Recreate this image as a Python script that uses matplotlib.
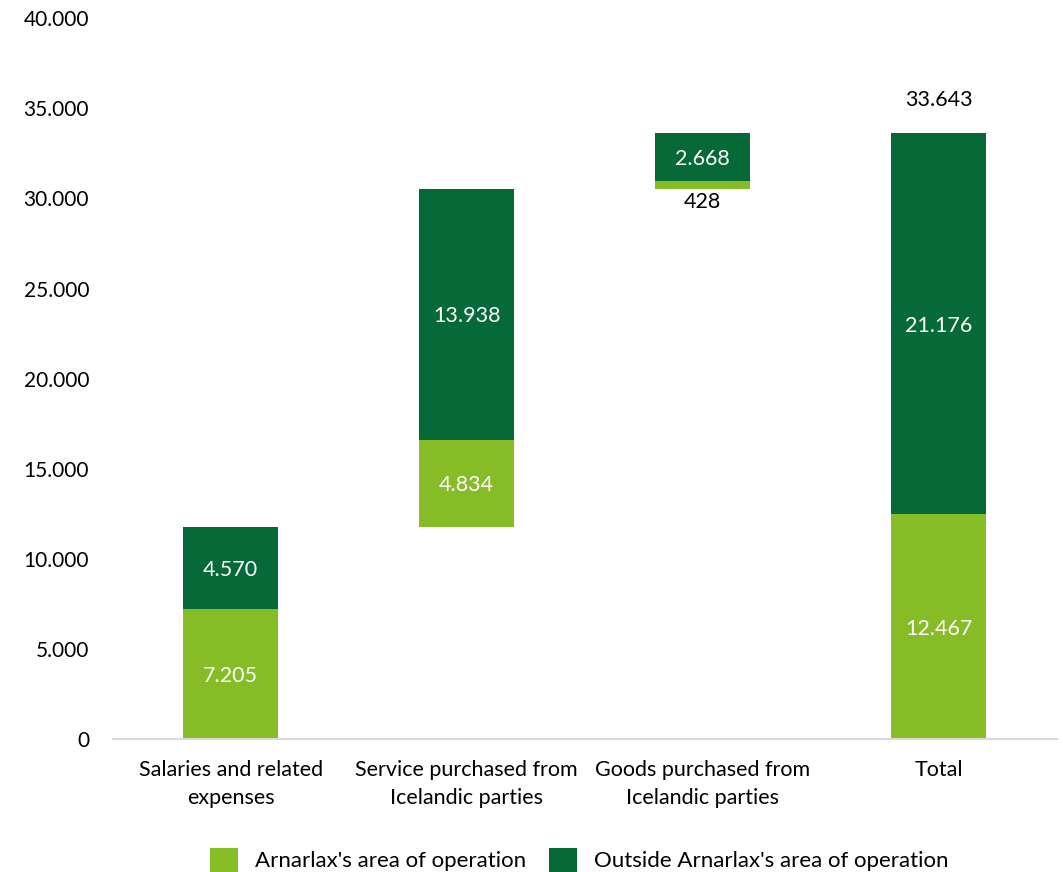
import numpy as np
import matplotlib.pyplot as plt
from matplotlib.ticker import FuncFormatter

plt.rcParams['font.family'] = ['Lato', 'DejaVu Sans']

categories = ['Salaries and related\nexpenses', 'Service purchased from\nIcelandic parties',
              'Goods purchased from\nIcelandic parties', 'Total']
inside = np.array([7205, 4834, 428, 12467])
outside = np.array([4570, 13938, 2668, 21176])
series_names = ["Arnarlax's area of operation", "Outside Arnarlax's area of operation"]

light = '#86BC25'
dark = '#066A38'


def fmt(v):
    return '{:,.0f}'.format(v).replace(',', '.')


# waterfall bases: each step starts where the previous one ended, total from 0
steps = inside[:-1] + outside[:-1]
base = np.r_[0, np.cumsum(steps)[:-1], 0]

fig = plt.figure(figsize=(10.63, 8.72), dpi=100)
ax = fig.add_axes([0.106, 0.1525, 0.888, 0.8265])

x = np.arange(len(categories))
w = 0.40
ax.bar(x, inside, w, bottom=base, color=light, label=series_names[0])
ax.bar(x, outside, w, bottom=base + inside, color=dark, label=series_names[1])

lbl = 15.5
for i in range(len(x)):
    if inside[i] > 1500:
        ax.text(x[i], base[i] + inside[i] / 2, fmt(inside[i]), ha='center',
                va='center_baseline', color='white', fontsize=lbl)
    else:
        ax.text(x[i], base[i] - 750, fmt(inside[i]), ha='center', va='center',
                color='black', fontsize=lbl)
    ax.text(x[i], base[i] + inside[i] + outside[i] / 2, fmt(outside[i]), ha='center',
            va='center_baseline', color='white', fontsize=lbl)

total = inside[-1] + outside[-1]
ax.text(x[-1], total + 1850, fmt(total), ha='center', va='center', fontsize=lbl)

ax.set_xlim(-0.5, len(x) - 0.5)
ax.set_ylim(0, 40000)
ax.set_yticks(np.arange(0, 40001, 5000))
ax.yaxis.set_major_formatter(FuncFormatter(lambda v, p: fmt(v)))
ax.set_xticks(x)
ax.set_xticklabels(categories, fontsize=15.5, linespacing=1.5)
ax.tick_params(axis='both', length=0, colors='black')
ax.tick_params(axis='y', labelsize=15, pad=17)
ax.tick_params(axis='x', pad=15)
for s in ['top', 'right', 'left']:
    ax.spines[s].set_visible(False)
ax.spines['bottom'].set_color('#D9D9D9')
ax.spines['bottom'].set_linewidth(1.5)

fig.legend(*ax.get_legend_handles_labels(), loc='center',
           bbox_to_anchor=(0.545, 0.0138), bbox_transform=fig.transFigure, ncol=2,
           frameon=False, fontsize=16, handlelength=1.27, handleheight=1.27,
           columnspacing=1.0, handletextpad=0.77, borderpad=0)

fig.savefig('out.png', dpi=100)
